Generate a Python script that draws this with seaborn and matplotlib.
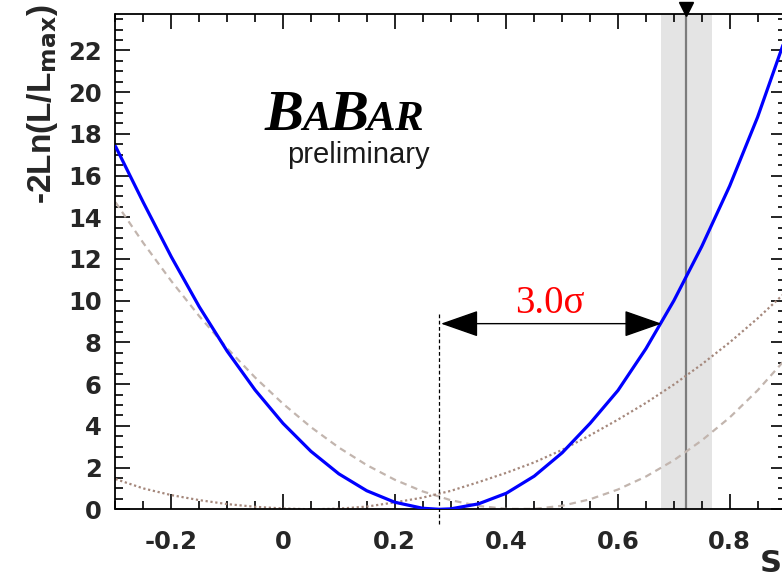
import numpy as np
import pandas as pd
import matplotlib
matplotlib.use("Agg")
import matplotlib.pyplot as plt
from matplotlib.ticker import FixedLocator, MultipleLocator, FixedFormatter
import seaborn as sns

# ---------------- data ----------------
grid_x = [-0.30, -0.25, -0.20, -0.15, -0.10, -0.05, 0.00, 0.05, 0.10, 0.15, 0.20, 0.25,
          0.30, 0.35, 0.40, 0.45, 0.50, 0.55, 0.60, 0.65, 0.70, 0.75, 0.80, 0.85, 0.90]

blue_x = [-0.30, -0.25, -0.20, -0.15, -0.10, -0.05, 0.00, 0.05, 0.10, 0.15, 0.20, 0.25, 0.28,
          0.30, 0.35, 0.40, 0.45, 0.50, 0.55, 0.60, 0.65, 0.70, 0.75, 0.80, 0.85, 0.90]
blue_y = [17.4, 14.7, 12.1, 9.71, 7.58, 5.72, 4.12, 2.78, 1.70, 0.89, 0.34, 0.05, 0.0,
          0.02, 0.26, 0.77, 1.59, 2.71, 4.12, 5.70, 7.70, 10.0, 12.6, 15.5, 18.8, 22.6]

dashed_y = [14.72, 12.76, 10.94, 9.26, 7.72, 6.32, 5.06, 3.94, 2.96, 2.12, 1.42, 0.86,
            0.44, 0.16, 0.02, 0.02, 0.17, 0.48, 0.95, 1.57, 2.35, 3.30, 4.40, 5.70, 7.20]

dotted_y = [1.45, 1.00, 0.68, 0.44, 0.25, 0.12, 0.04, 0.0, 0.03, 0.13, 0.33, 0.56,
            0.88, 1.30, 1.75, 2.25, 2.85, 3.55, 4.30, 5.10, 5.98, 6.95, 8.00, 9.15, 10.4]

central_value = 0.28        # fitted minimum (dashed marker)
sigma_level = 8.9           # -2lnL at the arrow
arrow_right = 0.678
band_lo, band_mid, band_hi = 0.677, 0.722, 0.768
sigma_text = "3.0\u03c3"

x_major = [-0.2, 0.0, 0.2, 0.4, 0.6, 0.8]
x_labels = ["-0.2", "0", "0.2", "0.4", "0.6", "0.8"]
y_major = [0, 2, 4, 6, 8, 10, 12, 14, 16, 18, 20, 22]
y_labels = [str(v) for v in y_major]

# ---------------- figure ----------------
sns.set_style("ticks")
plt.rcParams["font.family"] = ["DejaVu Sans"]

W, H = 782, 579
fig = plt.figure(figsize=(W / 100, H / 100), dpi=100)
fig.patch.set_facecolor("white")
ax_left, ax_right_px, ax_top_px, ax_bot_px = 115.5, 785.5, 14.3, 509.3
ax = fig.add_axes([ax_left / W, 1 - ax_bot_px / H, (ax_right_px - ax_left) / W,
                   (ax_bot_px - ax_top_px) / H])
ax.set_facecolor("white")

xmin, xmax, ymin, ymax = -0.3, 0.9, 0.0, 23.73
ax.set_xlim(xmin, xmax)
ax.set_ylim(ymin, ymax)

# error band and marker line
ax.axvspan(band_lo, band_hi, color="#e4e4e4", lw=0, zorder=0)
ax.axvline(band_mid, color="#7c7c7c", lw=1.6, zorder=1)

df_dash = pd.DataFrame({"x": grid_x, "y": dashed_y})
df_dot = pd.DataFrame({"x": grid_x, "y": dotted_y})
df_blue = pd.DataFrame({"x": blue_x, "y": blue_y})

sns.lineplot(data=df_dash, x="x", y="y", ax=ax, color="#c2b5ae", lw=1.6,
             linestyle=(0, (3, 2.2)), zorder=2)
sns.lineplot(data=df_dot, x="x", y="y", ax=ax, color="#a5887c", lw=1.6,
             linestyle=(0, (1, 1.2)), zorder=2)
sns.lineplot(data=df_blue, x="x", y="y", ax=ax, color="#0000ff", lw=2.3, zorder=4)

# dashed vertical at the minimum
ax.plot([central_value, central_value], [-0.7, 9.47], color="black", lw=0.9,
        linestyle=(0, (3, 2)), clip_on=False, zorder=3)

# double-headed arrow
ax.annotate("", xy=(arrow_right, sigma_level), xytext=(central_value + 0.003, sigma_level),
            arrowprops=dict(arrowstyle="<|-|>,head_length=1.2,head_width=0.42",
                            mutation_scale=20, color="black", lw=1.0,
                            shrinkA=0, shrinkB=0), zorder=5)
ax.text(0.478, 9.4, sigma_text, color="#ff0000", fontsize=28,
        family="Liberation Serif", ha="center", va="baseline")

# triangle above the plot
ax.plot([band_mid], [ymax + 0.26], marker="v", color="black", ms=10,
        clip_on=False, zorder=6)

# BaBar logo
fig.canvas.draw()
renderer = fig.canvas.get_renderer()
pieces = [("B", 42), ("A", 31), ("B", 42), ("A", 31), ("R", 31)]
xpos = -0.033
for ch, fs in pieces:
    t = ax.text(xpos, 18.18, ch, fontsize=fs, family="Liberation Serif",
                weight="bold", style="italic", ha="left", va="baseline", color="black")
    bb = t.get_window_extent(renderer)
    xpos = ax.transData.inverted().transform((bb.x1 - 1.5, bb.y0))[0]
ax.text(0.263, 16.6, "preliminary", fontsize=21, family="Liberation Sans",
        ha="right", va="baseline", color="#1a1a1a")

# ticks
ax.xaxis.set_major_locator(FixedLocator(x_major))
ax.xaxis.set_major_formatter(FixedFormatter(x_labels))
ax.xaxis.set_minor_locator(MultipleLocator(0.05))
ax.yaxis.set_major_locator(FixedLocator(y_major))
ax.yaxis.set_major_formatter(FixedFormatter(y_labels))
ax.yaxis.set_minor_locator(MultipleLocator(0.5))
ax.tick_params(which="both", direction="in", top=True, right=True, width=1.2,
               color="black")
ax.tick_params(which="major", length=11)
ax.tick_params(which="minor", length=5.5)
ax.tick_params(axis="x", which="major", pad=15)
ax.tick_params(axis="y", which="major", pad=10)
for lab in ax.get_xticklabels() + ax.get_yticklabels():
    lab.set_fontsize(17.5)
    lab.set_fontweight("bold")
for s in ax.spines.values():
    s.set_linewidth(1.3)
    s.set_color("black")

ax.set_xlabel("")
ax.set_ylabel("-2Ln(L/L$_{\\mathbf{max}}$)", fontsize=24, fontweight="bold",
              family=["Liberation Sans", "DejaVu Sans"], loc="top")
ax.yaxis.set_label_coords(-0.083, 1.02)
fig.text(760 / W, (H - 564) / H, "S", fontsize=22, fontweight="bold",
         ha="left", va="center")

fig.savefig("out.png", dpi=100, facecolor="white")
